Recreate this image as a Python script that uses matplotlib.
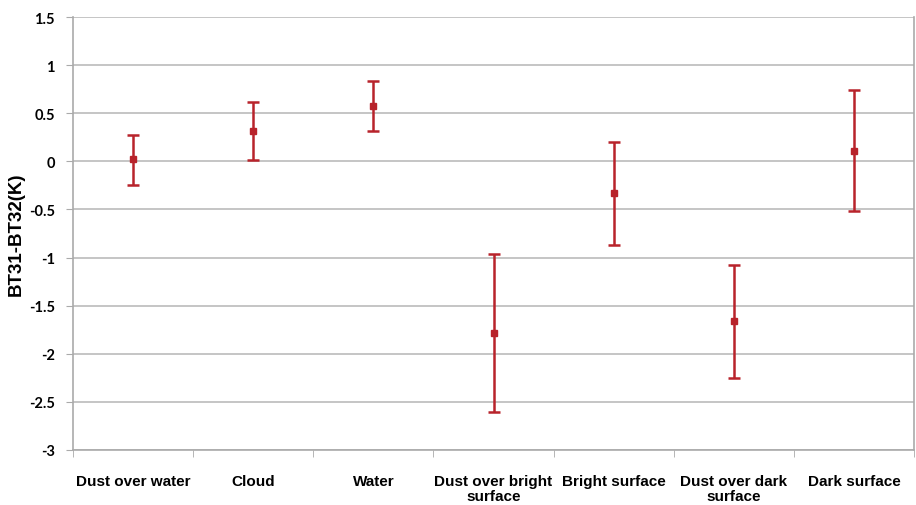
import matplotlib
matplotlib.use("Agg")
import matplotlib.pyplot as plt
import numpy as np

categories = ["Dust over water", "Cloud", "Water", "Dust over bright\nsurface",
              "Bright surface", "Dust over dark\nsurface", "Dark surface"]
means = [0.02, 0.32, 0.58, -1.78, -0.33, -1.66, 0.11]
upper = [0.27, 0.62, 0.84, -0.96, 0.20, -1.08, 0.74]
lower = [-0.25, 0.01, 0.32, -2.60, -0.87, -2.25, -0.52]
yticks = [1.5, 1, 0.5, 0, -0.5, -1, -1.5, -2, -2.5, -3]
ytick_labels = ["1.5", "1", "0.5", "0", "-0.5", "-1", "-1.5", "-2", "-2.5", "-3"]

fig = plt.figure(figsize=(9.16, 5.06), dpi=100)
ax = fig.add_axes([73/916, 55/506, (914-73)/916, (451-18)/506])

x = np.arange(len(categories))
m = np.array(means)
yerr = np.vstack([m - np.array(lower), np.array(upper) - m])
red = "#B8232B"
ax.errorbar(x, m, yerr=yerr, fmt="s", color=red, ecolor=red, markersize=4,
            elinewidth=1.8, capsize=4, capthick=1.8, zorder=3)

ax.set_xlim(-0.5, len(categories) - 0.5)
ax.set_ylim(-3, 1.5)
ax.set_yticks(yticks)
ax.set_yticklabels(ytick_labels, fontsize=10.5, fontweight="bold", family="Lato")
ax.yaxis.grid(True, color="#BBBBBB", linewidth=1.2)
ax.set_axisbelow(True)

ax.set_xticks(x)
ax.set_xticklabels(categories, fontsize=11, fontweight="bold", family="Liberation Sans",
                   va="top", linespacing=1.15)
ax.tick_params(axis="x", length=0, pad=17)
ax.set_xticks(np.arange(len(categories) + 1) - 0.5, minor=True)
ax.tick_params(axis="x", which="minor", length=5, color="#AAAAAA", direction="out")
ax.tick_params(axis="y", length=5, color="#AAAAAA", pad=8)

ax.spines["top"].set_visible(False)
for s in ["left", "bottom", "right"]:
    ax.spines[s].set_color("#AAAAAA")
    ax.spines[s].set_linewidth(1.2)

ax.set_ylabel("BT31-BT32(K)", fontsize=13.5, fontweight="bold", family="Liberation Sans",
              va="center")
ax.yaxis.set_label_coords(-0.067, 0.5)

fig.savefig("out.png", dpi=100)
